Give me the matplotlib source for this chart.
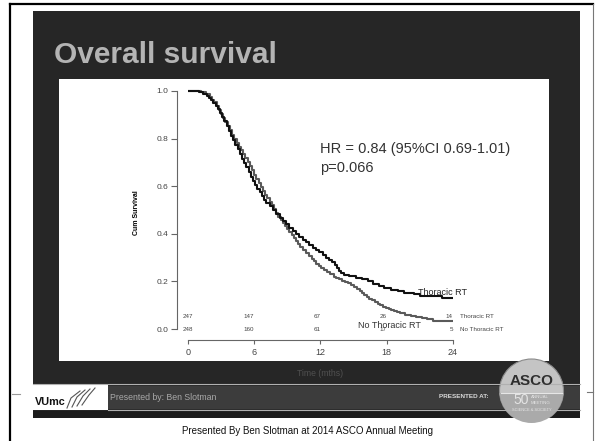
import matplotlib
matplotlib.use("Agg")
import matplotlib.pyplot as plt
from matplotlib.patches import Rectangle, Circle

plt.rcParams['font.family'] = ['Liberation Sans', 'DejaVu Sans']

# Kaplan-Meier curves
t_rt = [0.0, 0.6, 1.0, 1.4, 1.7, 1.9, 2.1, 2.3, 2.5, 2.7, 2.9, 3.1, 3.3, 3.5,
        3.7, 3.9, 4.1, 4.3, 4.5, 4.7, 4.9, 5.1, 5.3, 5.5, 5.7, 5.9, 6.1, 6.3,
        6.5, 6.7, 6.9, 7.1, 7.4, 7.7, 8.0, 8.3, 8.6, 8.9, 9.2, 9.5, 9.8, 10.1,
        10.4, 10.7, 11.0, 11.3, 11.6, 11.9, 12.2, 12.5, 12.8, 13.1, 13.3,
        13.5, 13.7, 13.9, 14.1, 14.6, 15.2, 15.8, 16.3, 16.8, 17.3, 17.8,
        18.4, 19.0, 19.6, 20.5, 21.0, 22.5, 23.0, 24.0]
s_rt = [1.000, 0.998, 0.994, 0.988, 0.980, 0.972, 0.962, 0.950, 0.938, 0.924,
        0.908, 0.890, 0.872, 0.852, 0.832, 0.812, 0.792, 0.774, 0.756, 0.736,
        0.716, 0.698, 0.680, 0.660, 0.640, 0.622, 0.606, 0.590, 0.574, 0.560,
        0.544, 0.530, 0.515, 0.500, 0.484, 0.468, 0.455, 0.440, 0.426, 0.412,
        0.398, 0.386, 0.375, 0.364, 0.353, 0.342, 0.332, 0.322, 0.311, 0.300,
        0.290, 0.280, 0.268, 0.256, 0.245, 0.236, 0.228, 0.222, 0.213, 0.208,
        0.200, 0.188, 0.180, 0.172, 0.165, 0.158, 0.150, 0.148, 0.140, 0.138,
        0.132, 0.130]

t_no = [0.0, 0.8, 1.2, 1.6, 2.0, 2.2, 2.4, 2.6, 2.8, 3.0, 3.2, 3.4, 3.6, 3.8,
        4.0, 4.2, 4.4, 4.6, 4.8, 5.0, 5.2, 5.4, 5.6, 5.8, 6.0, 6.2, 6.4, 6.6,
        6.8, 7.0, 7.2, 7.4, 7.6, 7.8, 8.0, 8.2, 8.4, 8.6, 8.8, 9.0, 9.2, 9.4,
        9.6, 9.8, 10.0, 10.2, 10.45, 10.7, 10.95, 11.2, 11.4, 11.6, 11.85,
        12.1, 12.35, 12.6, 12.9, 13.2, 13.45, 13.7, 13.95, 14.2, 14.5, 14.8,
        15.05, 15.3, 15.55, 15.8, 16.0, 16.2, 16.45, 16.7, 16.95, 17.2,
        17.45, 17.7, 17.95, 18.2, 18.45, 18.7, 18.95, 19.2, 19.7, 20.2,
        20.7, 21.2, 21.7, 22.2, 24.0]
s_no = [1.000, 0.998, 0.994, 0.986, 0.975, 0.964, 0.952, 0.938, 0.922, 0.905,
        0.888, 0.870, 0.852, 0.834, 0.816, 0.798, 0.782, 0.766, 0.750, 0.734,
        0.718, 0.702, 0.684, 0.666, 0.648, 0.630, 0.612, 0.596, 0.580, 0.565,
        0.550, 0.535, 0.520, 0.505, 0.488, 0.472, 0.458, 0.445, 0.432, 0.420,
        0.407, 0.395, 0.383, 0.371, 0.358, 0.346, 0.333, 0.320, 0.307, 0.295,
        0.285, 0.275, 0.265, 0.255, 0.246, 0.238, 0.229, 0.220, 0.214, 0.208,
        0.203, 0.198, 0.192, 0.185, 0.177, 0.168, 0.159, 0.150, 0.143, 0.136,
        0.128, 0.120, 0.113, 0.106, 0.100, 0.094, 0.090, 0.085, 0.080, 0.075,
        0.071, 0.067, 0.060, 0.055, 0.050, 0.045, 0.040, 0.034, 0.034]

risk_times = [0, 6, 12, 18, 24]
risk_rt = [247, 147, 67, 26, 14]
risk_no = [248, 160, 61, 17, 5]
xticks = [0, 6, 12, 18, 24]
yticks = [0.0, 0.2, 0.4, 0.6, 0.8, 1.0]

W, H = 595, 441
fig = plt.figure(figsize=(W / 100, H / 100), dpi=100)
fig.patch.set_facecolor('white')

# background "slide" drawn in pixel units
bg = fig.add_axes([0, 0, 1, 1], zorder=0)
bg.set_xlim(0, W)
bg.set_ylim(H, 0)
bg.axis('off')

def rect(x0, y0, x1, y1, color, **kw):
    bg.add_patch(Rectangle((x0, y0), x1 - x0, y1 - y0, facecolor=color,
                           edgecolor='none', **kw))

# outer frame
bg.plot([10, 10], [4, H], color='black', lw=1.6)
bg.plot([10, 593], [4, 4], color='black', lw=1.6)
bg.plot([593, 593], [4, H], color='#777777', lw=0.8)
bg.plot([12, 20], [394, 394], color='#999999', lw=0.8)
bg.plot([587, 593], [392, 392], color='#777777', lw=0.8)

# dark slide
rect(33, 11, 580, 418, '#262626')
# white chart panel
rect(59, 79, 549, 361, 'white')
bg.text(54, 63, 'Overall survival', color='#b4b4b4', fontsize=21.5,
        fontweight='bold', ha='left', va='baseline')
bg.text(320, 374, 'Time (mths)', color='#505050', fontsize=6.2,
        ha='center', va='center')

# footer band
bg.plot([33, 580], [384, 384], color='#b0b0b0', lw=0.8)
rect(33, 385, 108, 410, 'white')
rect(108, 386, 580, 409, '#3c3c3c')
bg.plot([108, 580], [410, 410], color='#b0b0b0', lw=0.8)
rect(33, 411, 580, 418, '#1c1c1c')
bg.text(35, 402, 'VUmc', color='#111111', fontsize=7.8, fontweight='bold',
        ha='left', va='center')
for k in range(4):
    xs = [67 + 5 * k, 71 + 6 * k, 80 + 5 * k]
    ys = [408 - k, 398 - k, 391 - k]
    bg.plot(xs, ys, color='#555555', lw=0.8)
bg.text(110, 398, 'Presented by: Ben Slotman', color='#a8a8a8',
        fontsize=6.3, ha='left', va='center')
bg.text(464, 397, 'PRESENTED AT:', color='#d8d8d8', fontsize=4.6,
        fontweight='bold', ha='center', va='center')

# ASCO badge
clip = Rectangle((490, 355), 90, 63, transform=bg.transData)
badge = Circle((531.5, 391), 32, facecolor='#c4c4c4', edgecolor='#8a8a8a',
               lw=0.8)
bg.add_patch(badge)
badge.set_clip_path(clip)
low = Rectangle((495, 393), 75, 30, facecolor='#aaaaaa', edgecolor='none')
bg.add_patch(low)
low.set_clip_path(badge)
bg.plot([501, 562], [392.5, 392.5], color='#e6e6e6', lw=0.8)
bg.text(531.5, 381, 'ASCO', color='#2e2e2e', fontsize=11, fontweight='bold',
        ha='center', va='center')
bg.text(521, 400, '50', color='#e4e4e4', fontsize=10, ha='center',
        va='center')
bg.text(531, 397, 'ANNUAL', color='#e4e4e4', fontsize=3.2, ha='left',
        va='center')
bg.text(531, 402.5, 'MEETING', color='#e4e4e4', fontsize=3.2, ha='left',
        va='center')
bg.text(531.5, 410, 'SCIENCE & SOCIETY', color='#e4e4e4', fontsize=2.8,
        ha='center', va='center')

bg.text(307, 430.5, 'Presented By Ben Slotman at 2014 ASCO Annual Meeting',
        color='#111111', fontsize=7, ha='center', va='center')

# survival chart
x0, x1 = 188, 452.7
y_top, y_bot = 86.2, 340
ax = fig.add_axes([x0 / W, 1 - y_bot / H, (x1 - x0) / W, (y_bot - y_top) / H],
                  zorder=1)
ax.patch.set_alpha(0)
ax.step(t_no, s_no, where='post', color='#5a5a5a', lw=1.5)
ax.step(t_rt, s_rt, where='post', color='#111111', lw=1.5)
ax.set_xlim(0, 24)
ax.set_ylim(-0.0462, 1.02)

for side in ['top', 'right']:
    ax.spines[side].set_visible(False)
ax.spines['left'].set_position(('outward', 8))
ax.spines['left'].set_bounds(0, 1)
ax.spines['bottom'].set_bounds(0, 24)
for side in ['left', 'bottom']:
    ax.spines[side].set_color('#666666')
    ax.spines[side].set_linewidth(0.8)
ax.set_xticks(xticks)
ax.set_xticklabels([str(v) for v in xticks])
ax.set_yticks(yticks)
ax.set_yticklabels(['%.1f' % v for v in yticks])
ax.tick_params(axis='both', direction='out', color='#666666', width=0.8,
               labelcolor='#444444')
ax.tick_params(axis='x', length=3, labelsize=6.5, pad=3)
ax.tick_params(axis='y', length=4, labelsize=6, pad=2)
ax.set_ylabel('Cum Survival', fontsize=5, fontweight='bold', labelpad=12)

ax.text(11.97, 0.739, 'HR = 0.84 (95%CI 0.69-1.01)', fontsize=10.5,
        color='#333333', va='baseline')
ax.text(11.97, 0.661, 'p=0.066', fontsize=10.5, color='#333333',
        va='baseline')
ax.text(20.85, 0.143, 'Thoracic RT', fontsize=6.5, color='#222222',
        va='baseline')
ax.text(15.4, 0.004, 'No Thoracic RT', fontsize=6.5, color='#333333',
        va='baseline')

for t, a, b in zip(risk_times, risk_rt, risk_no):
    ha = 'center' if t == 0 else 'right'
    ax.text(t, 0.052, str(a), fontsize=4.5, color='#444444', ha=ha,
            va='center')
    ax.text(t, -0.004, str(b), fontsize=4.5, color='#444444', ha=ha,
            va='center')
ax.text(24.66, 0.052, 'Thoracic RT', fontsize=4.5, color='#444444',
        va='center', clip_on=False)
ax.text(24.66, -0.004, 'No Thoracic RT', fontsize=4.5, color='#444444',
        va='center', clip_on=False)

fig.savefig('out.png', dpi=100)
